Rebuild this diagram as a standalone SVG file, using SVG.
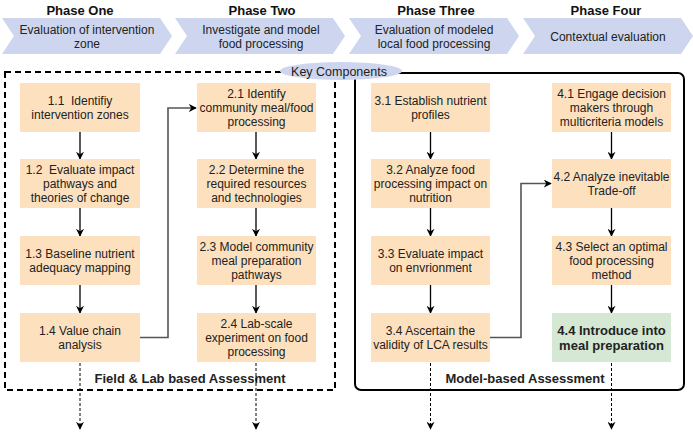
<svg xmlns="http://www.w3.org/2000/svg" width="693" height="439" viewBox="0 0 693 439">
<defs>
<marker id="ah" viewBox="0 0 10 10" refX="9" refY="5" markerWidth="8" markerHeight="8" markerUnits="userSpaceOnUse" orient="auto">
<path d="M0,0 L10,5 L0,10 L3,5 Z" fill="#000"/>
</marker>
<style>
text{font-family:"Liberation Sans",Arial,sans-serif;fill:#222;text-anchor:middle}
.t{font-size:12px}
.ph{font-size:13px;font-weight:bold;fill:#111}
.lab{font-size:13px;font-weight:bold}
.chev{fill:#cdd6ee}
.box{fill:#fde0bd}
.grn{fill:#d5e8d4}
.b{font-size:13px;font-weight:bold}
.arr{stroke:#000;stroke-width:1.3;fill:none;marker-end:url(#ah)}
.side{stroke:#555;stroke-width:1.6;fill:none;marker-end:url(#ah)}
.dot{stroke:#000;stroke-width:1;stroke-dasharray:3 2;fill:none;marker-end:url(#ah)}
</style>
</defs>
<rect width="693" height="439" fill="#fff"/>
<g id="phase1">
<text class="ph" x="80" y="15">Phase One</text>
<path class="chev" d="M2,18 L160,18 L172,36 L160,54 L2,54 L14,36 Z"/>
<text class="t" x="87" y="34">Evaluation of intervention</text>
<text class="t" x="87" y="48">zone</text>
</g>
<g id="phase2">
<text class="ph" x="262" y="15">Phase Two</text>
<path class="chev" d="M175,18 L333,18 L345,36 L333,54 L175,54 L187,36 Z"/>
<text class="t" x="261" y="34">Investigate and model</text>
<text class="t" x="261" y="48">food processing</text>
</g>
<g id="phase3">
<text class="ph" x="436" y="15">Phase Three</text>
<path class="chev" d="M349,18 L507,18 L519,36 L507,54 L349,54 L361,36 Z"/>
<text class="t" x="434" y="34">Evaluation of modeled</text>
<text class="t" x="434" y="48">local food processing</text>
</g>
<g id="phase4">
<text class="ph" x="606" y="15">Phase Four</text>
<path class="chev" d="M523,18 L681,18 L693,36 L681,54 L523,54 L535,36 Z"/>
<text class="t" x="608" y="41">Contextual evaluation</text>
</g>
<g id="field-lab-group">
<rect x="5" y="72" width="330" height="318" fill="none" stroke="#000" stroke-width="2" stroke-dasharray="6 4"/>
<text class="lab" x="190" y="383">Field &amp; Lab based Assessment</text>
</g>
<g id="model-group">
<rect x="355" y="73" width="329" height="317" rx="6" fill="none" stroke="#000" stroke-width="2"/>
<text class="lab" x="525" y="383">Model-based Assessment</text>
</g>
<g id="key-components">
<ellipse cx="341" cy="71" rx="61" ry="9" fill="#cdd6ee"/>
<text class="t" x="339" y="75.5" style="font-size:12.5px">Key Components</text>
</g>
<g id="connectors">
<line class="arr" x1="80" y1="132" x2="80" y2="159"/>
<line class="arr" x1="80" y1="208" x2="80" y2="236"/>
<line class="arr" x1="80" y1="285" x2="80" y2="313"/>
<line class="arr" x1="256" y1="132" x2="256" y2="159"/>
<line class="arr" x1="256" y1="208" x2="256" y2="236"/>
<line class="arr" x1="256" y1="285" x2="256" y2="313"/>
<line class="arr" x1="430.5" y1="132" x2="430.5" y2="159"/>
<line class="arr" x1="430.5" y1="208" x2="430.5" y2="236"/>
<line class="arr" x1="430.5" y1="285" x2="430.5" y2="313"/>
<line class="arr" x1="611.5" y1="132" x2="611.5" y2="159"/>
<line class="arr" x1="611.5" y1="208" x2="611.5" y2="236"/>
<line class="arr" x1="611.5" y1="285" x2="611.5" y2="313"/>
<polyline class="side" points="140,337.5 168,337.5 168,108 196,108"/>
<polyline class="side" points="490,337.5 521,337.5 521,183.5 551,183.5"/>
<line class="dot" x1="80" y1="363" x2="80" y2="429"/>
<line class="dot" x1="256" y1="363" x2="256" y2="429"/>
<line class="dot" x1="430.5" y1="363" x2="430.5" y2="429"/>
<line class="dot" x1="611.5" y1="363" x2="611.5" y2="429"/>
</g>
<g id="n1-1"><rect class="box" x="20" y="83" width="120" height="49"/>
<text class="t" x="80" y="104.5">1.1&#160; Identifiy</text><text class="t" x="80" y="118.5">intervention zones</text></g>
<g id="n1-2"><rect class="box" x="20" y="159" width="120" height="49"/>
<text class="t" x="80" y="173.5">1.2&#160; Evaluate impact</text><text class="t" x="80" y="187.5">pathways and</text><text class="t" x="80" y="201.5">theories of change</text></g>
<g id="n1-3"><rect class="box" x="20" y="236" width="120" height="49"/>
<text class="t" x="80" y="257.5">1.3 Baseline nutrient</text><text class="t" x="80" y="271.5">adequacy mapping</text></g>
<g id="n1-4"><rect class="box" x="20" y="313" width="120" height="49"/>
<text class="t" x="80" y="334.5">1.4 Value chain</text><text class="t" x="80" y="348.5">analysis</text></g>
<g id="n2-1"><rect class="box" x="197" y="83" width="119" height="49"/>
<text class="t" x="256.5" y="97.5">2.1 Identify</text><text class="t" x="256.5" y="111.5">community meal/food</text><text class="t" x="256.5" y="125.5">processing</text></g>
<g id="n2-2"><rect class="box" x="197" y="159" width="119" height="49"/>
<text class="t" x="256.5" y="173.5">2.2 Determine the</text><text class="t" x="256.5" y="187.5">required resources</text><text class="t" x="256.5" y="201.5">and technologies</text></g>
<g id="n2-3"><rect class="box" x="197" y="236" width="119" height="49"/>
<text class="t" x="256.5" y="250.5">2.3 Model community</text><text class="t" x="256.5" y="264.5">meal preparation</text><text class="t" x="256.5" y="278.5">pathways</text></g>
<g id="n2-4"><rect class="box" x="197" y="313" width="119" height="49"/>
<text class="t" x="256.5" y="327.5">2.4 Lab-scale</text><text class="t" x="256.5" y="341.5">experiment on food</text><text class="t" x="256.5" y="355.5">processing</text></g>
<g id="n3-1"><rect class="box" x="371" y="83" width="119" height="49"/>
<text class="t" x="430.5" y="104.5">3.1 Establish nutrient</text><text class="t" x="430.5" y="118.5">profiles</text></g>
<g id="n3-2"><rect class="box" x="371" y="159" width="119" height="49"/>
<text class="t" x="430.5" y="173.5">3.2 Analyze food</text><text class="t" x="430.5" y="187.5">processing impact on</text><text class="t" x="430.5" y="201.5">nutrition</text></g>
<g id="n3-3"><rect class="box" x="371" y="236" width="119" height="49"/>
<text class="t" x="430.5" y="257.5">3.3 Evaluate impact</text><text class="t" x="430.5" y="271.5">on envrionment</text></g>
<g id="n3-4"><rect class="box" x="371" y="313" width="119" height="49"/>
<text class="t" x="430.5" y="334.5">3.4 Ascertain the</text><text class="t" x="430.5" y="348.5">validity of LCA results</text></g>
<g id="n4-1"><rect class="box" x="552" y="83" width="119" height="49"/>
<text class="t" x="611.5" y="97.5">4.1 Engage decision</text><text class="t" x="611.5" y="111.5">makers through</text><text class="t" x="611.5" y="125.5">multicriteria models</text></g>
<g id="n4-2"><rect class="box" x="552" y="159" width="119" height="49"/>
<text class="t" x="611.5" y="180.5">4.2 Analyze inevitable</text><text class="t" x="611.5" y="194.5">Trade-off</text></g>
<g id="n4-3"><rect class="box" x="552" y="236" width="119" height="49"/>
<text class="t" x="611.5" y="250.5">4.3 Select an optimal</text><text class="t" x="611.5" y="264.5">food processing</text><text class="t" x="611.5" y="278.5">method</text></g>
<g id="n4-4"><rect class="grn" x="552" y="313" width="119" height="49"/>
<text class="b" x="611.5" y="334.5">4.4 Introduce into</text><text class="b" x="611.5" y="349.5">meal preparation</text></g>
</svg>
